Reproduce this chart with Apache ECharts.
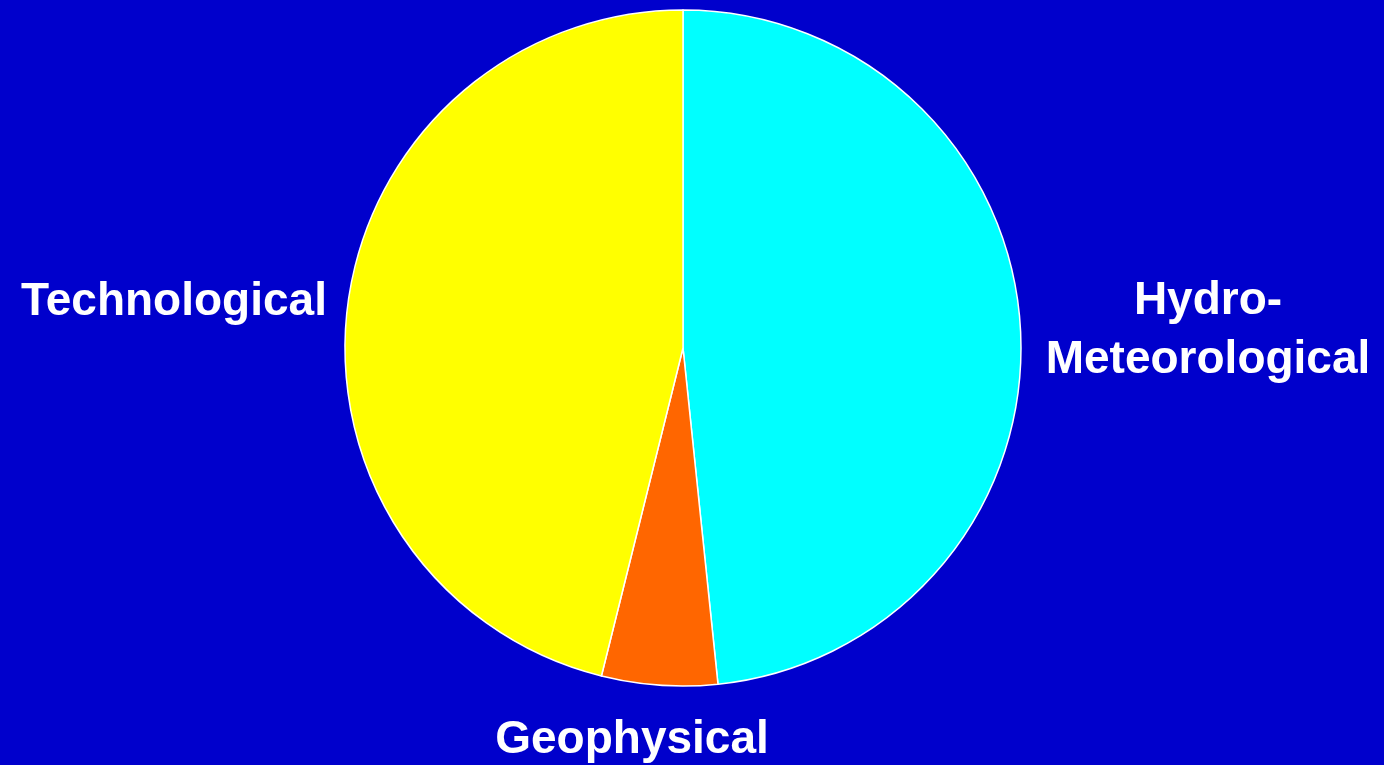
<!DOCTYPE html>
<html><head><meta charset="utf-8">
<script src="https://cdn.jsdelivr.net/npm/echarts@6/dist/echarts.min.js"></script>
<style>html,body{margin:0;padding:0;background:#0000CC;}#c{width:1384px;height:765px;}</style>
</head><body><div id="c"></div>
<script>
const categories = ['Hydro-Meteorological', 'Geophysical', 'Technological'];
const labelTexts = ['Hydro-\nMeteorological', 'Geophysical', 'Technological'];
const values = [48.35, 5.53, 46.12];
const colors = ['#00FFFF', '#FF6600', '#FFFF00'];

const chart = echarts.init(document.getElementById('c'), null, {renderer: 'canvas'});
const font = {fontFamily: 'Liberation Sans, Arial, sans-serif', fontWeight: 'bold', fontSize: 46, fill: '#FFFFFF'};
const labelPos = [[1208, 331], [632, 740], [174, 302]];
chart.setOption({
  backgroundColor: '#0000CC',
  animation: false,
  series: [{
    type: 'pie',
    center: [683, 348],
    radius: 338,
    startAngle: 90,
    clockwise: true,
    label: {show: false},
    labelLine: {show: false},
    itemStyle: {borderColor: '#FFFFFF', borderWidth: 1.5},
    data: categories.map((n, i) => ({name: n, value: values[i], itemStyle: {color: colors[i]}}))
  }],
  graphic: labelTexts.map((t, i) => ({
    type: 'text',
    x: labelPos[i][0],
    y: labelPos[i][1],
    style: Object.assign({text: t, align: 'center', verticalAlign: 'middle', lineHeight: 59}, font)
  }))
});
</script></body></html>
